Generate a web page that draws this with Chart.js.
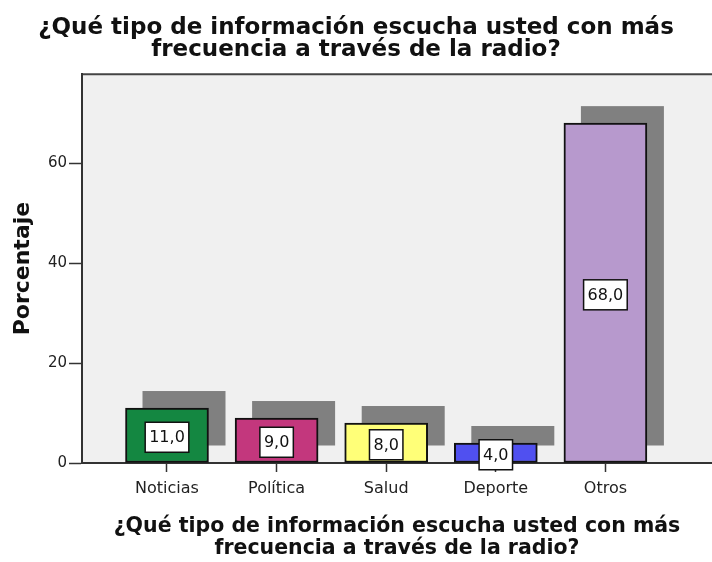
<!DOCTYPE html>
<html>
<head>
<meta charset="utf-8">
<script src="https://cdn.jsdelivr.net/npm/chart.js@4.4.1/dist/chart.umd.min.js"></script>
<style>
  body { margin: 0; background: #fff; }
  #wrap { width: 712px; height: 562px; }
</style>
</head>
<body>
<div id="wrap"><canvas id="ch" width="712" height="562"></canvas></div>
<script>
var categories = ['Noticias', 'Política', 'Salud', 'Deporte', 'Otros'];
var values = [11.0, 9.0, 8.0, 4.0, 68.0];
var barColors = ['#148741', '#c3377d', '#ffff78', '#5050f0', '#b799cd'];
var yTicks = [0, 20, 40, 60];
var titleLines = ['¿Qué tipo de información escucha usted con más', 'frecuencia a través de la radio?'];

// gray plot background + top frame line
var frameBg = {
    id: 'frameBg',
    beforeDraw: function(chart) {
        var a = chart.chartArea, c = chart.ctx;
        c.save();
        c.fillStyle = '#f0f0f0';
        c.fillRect(a.left, a.top, a.right - a.left, a.bottom - a.top);
        c.strokeStyle = '#444';
        c.lineWidth = 2;
        c.beginPath();
        c.moveTo(a.left, a.top);
        c.lineTo(a.right, a.top);
        c.stroke();
        c.restore();
    }
};

// offset gray "depth" block behind each bar
var barShadow = {
    id: 'barShadow',
    beforeDatasetsDraw: function(chart) {
        var c = chart.ctx;
        var meta = chart.getDatasetMeta(0);
        c.save();
        c.fillStyle = '#808080';
        meta.data.forEach(function(bar) {
            var p = bar.getProps(['x', 'y', 'base', 'width'], true);
            c.fillRect(p.x - p.width / 2 + 17, p.y - 17, p.width, p.base - p.y);
        });
        c.restore();
    }
};

// boxed value labels in the middle of the bars
var boxLabels = {
    id: 'boxLabels',
    afterDatasetsDraw: function(chart) {
        var c = chart.ctx;
        var meta = chart.getDatasetMeta(0);
        c.save();
        c.font = '16px "DejaVu Sans"';
        c.textAlign = 'center';
        c.textBaseline = 'middle';
        meta.data.forEach(function(bar, i) {
            var p = bar.getProps(['x', 'y', 'base'], true);
            var txt = values[i].toFixed(1).replace('.', ',');
            var w = c.measureText(txt).width + 8;
            var h = 30;
            var cy = (p.y + p.base) / 2 + 2;
            c.fillStyle = '#fff';
            c.fillRect(p.x - w / 2, cy - h / 2, w, h);
            c.strokeStyle = '#111';
            c.lineWidth = 1.5;
            c.strokeRect(p.x - w / 2, cy - h / 2, w, h);
            c.fillStyle = '#111';
            c.fillText(txt, p.x, cy + 1);
        });
        c.restore();
    }
};

new Chart(document.getElementById('ch'), {
    type: 'bar',
    data: {
        datasets: [{
            data: categories.map(function(c, i) { return {x: i + 1, y: values[i]}; }),
            backgroundColor: barColors,
            borderColor: '#111',
            borderWidth: 2,
            borderSkipped: false,
            barThickness: 83
        }]
    },
    options: {
        responsive: false,
        animation: false,
        devicePixelRatio: 1,
        layout: { padding: 0 },
        plugins: {
            legend: { display: false },
            tooltip: { enabled: false },
            title: {
                display: true,
                text: titleLines,
                color: '#111',
                font: { family: 'DejaVu Sans', size: 23, weight: 'bold', lineHeight: 0.96 },
                padding: { top: 17, bottom: 13 }
            }
        },
        scales: {
            x: {
                type: 'linear',
                offset: false,
                min: 0.2245,
                max: 5.9725,
                afterBuildTicks: function(s) {
                    s.ticks = categories.map(function(c, i) { return {value: i + 1}; });
                },
                afterFit: function(s) { s.height = 99; },
                ticks: {
                    callback: function(v) { return categories[v - 1]; },
                    color: '#222',
                    font: { family: 'DejaVu Sans', size: 16 },
                    padding: 7,
                    maxRotation: 0
                },
                grid: { offset: false, drawOnChartArea: false, tickLength: 9, color: '#333', tickWidth: 1.5 },
                border: { display: true, color: '#333', width: 2 },
                title: {
                    display: true,
                    text: titleLines,
                    color: '#111',
                    font: { family: 'DejaVu Sans', size: 20.5, weight: 'bold', lineHeight: 1.07 },
                    padding: { top: 0, bottom: 2 }
                }
            },
            y: {
                min: 0,
                max: 77.8,
                afterBuildTicks: function(s) {
                    s.ticks = yTicks.map(function(v) { return {value: v}; });
                },
                afterFit: function(s) { s.width = 82; },
                ticks: {
                    color: '#222',
                    font: { family: 'DejaVu Sans', size: 15 },
                    padding: 2
                },
                grid: { drawOnChartArea: false, tickLength: 13, color: '#333', tickWidth: 1.5 },
                border: { display: true, color: '#333', width: 2 },
                title: {
                    display: true,
                    text: 'Porcentaje',
                    color: '#111',
                    font: { family: 'DejaVu Sans', size: 22, weight: 'bold', lineHeight: 1.2 },
                    padding: { top: 10, bottom: 0 }
                }
            }
        }
    },
    plugins: [frameBg, barShadow, boxLabels]
});
</script>
</body>
</html>
